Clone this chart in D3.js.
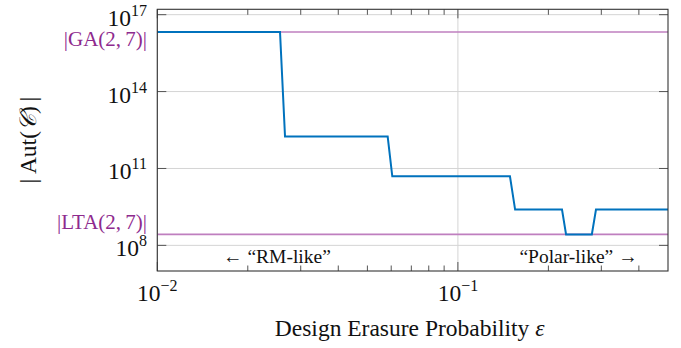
<!DOCTYPE html>
<html><head><meta charset="utf-8">
<script src="https://cdn.jsdelivr.net/npm/d3@7"></script>
<style>
html,body{margin:0;padding:0;background:#fff;}
svg{display:block;font-family:"Liberation Serif","Times New Roman",serif;}
</style></head>
<body><svg id="c" width="681" height="348"></svg>
<script>
// ---- data ----
const epsilon = [0.01, 0.0256, 0.0266, 0.0584, 0.0605, 0.149, 0.155, 0.222, 0.229, 0.279, 0.288, 0.5];
const autOrder = [2.0972799e16, 2.0972799e16, 1.76e12, 1.76e12, 4.92e10, 4.92e10, 2.5e9, 2.5e9, 2.68435456e8, 2.68435456e8, 2.5e9, 2.5e9];
const refNames = ["GA(2,7)", "LTA(2,7)"];
const refValues = [2.0972799094947840e16, 2.68435456e8];
const xTickValues = [0.01, 0.1];
const xTickExp = ["\u22122", "\u22121"];
const xMinorTicks = [0.02,0.03,0.04,0.05,0.06,0.07,0.08,0.09,0.2,0.3,0.4];
const yTickValues = [1e8, 1e11, 1e14, 1e17];
const yTickExp = ["8", "11", "14", "17"];
const annotations = [{text:"\u2190 \u201CRM-like\u201D", eps:0.025}, {text:"\u201CPolar-like\u201D \u2192", eps:0.252}];
const annotationLevel = Math.pow(10, 7.33);

// ---- layout ----
const L = 157.3, R = 668, T = 9.3, B = 271;
const svg = d3.select("#c");
const x = d3.scaleLog().domain([0.01, 0.5]).range([L, R]);
const y = d3.scaleLog().domain([1e7, Math.pow(10, 17.21)]).range([B, T]);

const blue = "#0072BD", purpleLine = "#bf7fbf", purpleText = "#8e2a8e";

// grid
svg.append("g").selectAll("line").data(yTickValues).join("line")
  .attr("x1", L).attr("x2", R).attr("y1", d => y(d)).attr("y2", d => y(d))
  .attr("stroke", "#d4d4d4").attr("stroke-width", 1);
svg.append("g").selectAll("line").data(xTickValues).join("line")
  .attr("x1", d => x(d)).attr("x2", d => x(d)).attr("y1", T).attr("y2", B)
  .attr("stroke", "#d4d4d4").attr("stroke-width", 1);

// ticks
const tk = svg.append("g").attr("stroke", "#555").attr("stroke-width", 1);
yTickValues.forEach(v => {
  tk.append("line").attr("x1", L).attr("x2", L + 9).attr("y1", y(v)).attr("y2", y(v));
  tk.append("line").attr("x1", R).attr("x2", R - 9).attr("y1", y(v)).attr("y2", y(v));
});
xTickValues.forEach(v => {
  tk.append("line").attr("x1", x(v)).attr("x2", x(v)).attr("y1", B).attr("y2", B - 9);
  tk.append("line").attr("x1", x(v)).attr("x2", x(v)).attr("y1", T).attr("y2", T + 9);
});
xMinorTicks.forEach(v => {
  tk.append("line").attr("x1", x(v)).attr("x2", x(v)).attr("y1", B).attr("y2", B - 5.5);
  tk.append("line").attr("x1", x(v)).attr("x2", x(v)).attr("y1", T).attr("y2", T + 5.5);
});

// clip
svg.append("clipPath").attr("id", "clip").append("rect")
  .attr("x", L).attr("y", T).attr("width", R - L).attr("height", B - T);

// reference lines
svg.append("g").attr("clip-path", "url(#clip)").selectAll("line").data(refValues).join("line")
  .attr("x1", L).attr("x2", R).attr("y1", d => y(d)).attr("y2", d => y(d))
  .attr("stroke", purpleLine).attr("stroke-width", 1.6);

// data line
const pts = epsilon.map((e, i) => [e, autOrder[i]]);
svg.append("path").attr("clip-path", "url(#clip)")
  .datum(pts)
  .attr("d", d3.line().x(d => x(d[0])).y(d => y(d[1])))
  .attr("fill", "none").attr("stroke", blue).attr("stroke-width", 2).attr("stroke-linejoin", "miter");

// frame
svg.append("rect").attr("x", L).attr("y", T).attr("width", R - L).attr("height", B - T)
  .attr("fill", "none").attr("stroke", "#333").attr("stroke-width", 1.1);

// y tick labels
yTickValues.forEach((v, i) => {
  const t = svg.append("text").attr("x", 147).attr("y", y(v) + 11)
    .attr("text-anchor", "end").attr("font-size", 23.5).attr("fill", "#111");
  t.append("tspan").text("10");
  t.append("tspan").attr("font-size", 16).attr("dy", -10).text(yTickExp[i]);
});
// x tick labels
xTickValues.forEach((v, i) => {
  const t = svg.append("text").attr("x", x(v)).attr("y", 301)
    .attr("text-anchor", "middle").attr("font-size", 23.5).attr("fill", "#111");
  t.append("tspan").text("10");
  t.append("tspan").attr("font-size", 16).attr("dy", -10).text(xTickExp[i]);
});

// reference labels
const refOffset = [14, -5.5];
refNames.forEach((n, i) => {
  svg.append("text").attr("x", 147).attr("y", y(refValues[i]) + refOffset[i])
    .attr("text-anchor", "end").attr("font-size", 21).attr("fill", purpleText)
    .text("|" + n.replace(",", ",\u2009") + "|");
});

// annotations
annotations.forEach(a => {
  svg.append("text").attr("x", x(a.eps)).attr("y", y(annotationLevel))
    .attr("text-anchor", "middle").attr("font-size", 19.5).attr("fill", "#111").text(a.text);
});

// axis labels
const xl = svg.append("text").attr("x", (L + R) / 2 - 3).attr("y", 336)
  .attr("text-anchor", "middle").attr("font-size", 23.5).attr("fill", "#111");
xl.append("tspan").text("Design Erasure Probability ");
xl.append("tspan").attr("font-style", "italic").text("\u03B5");

const yl = svg.append("text").attr("transform", `translate(36,${(T + B) / 2}) rotate(-90)`)
  .attr("text-anchor", "middle").attr("font-size", 23.5).attr("fill", "#111");
yl.append("tspan").text("|\u2009Aut(");
yl.append("tspan").attr("font-style", "italic").text("\uD835\uDC9E");
yl.append("tspan").text(")\u2009|");
</script></body></html>
